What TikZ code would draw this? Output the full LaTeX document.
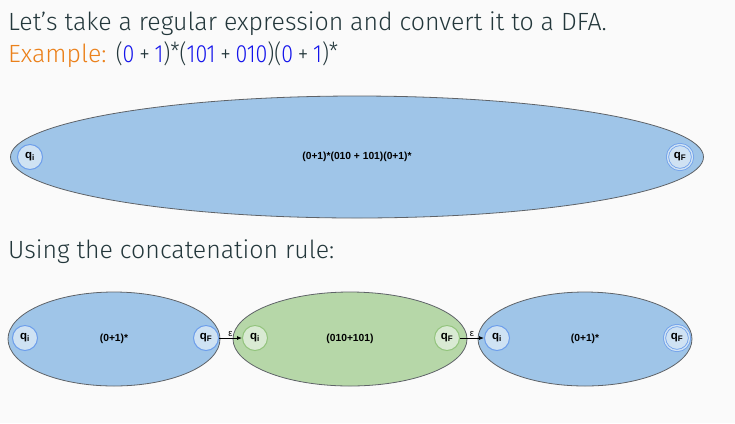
\documentclass[tikz,border=0pt]{standalone}
\usepackage{fontspec}
\setmainfont{Fira Sans Light}
\newfontfamily\lblfont{Liberation Sans}
\usepackage{xcolor}
\usepackage{tikz}
\usetikzlibrary{shapes.geometric, arrows.meta, positioning}
\definecolor{mtext}{HTML}{23373B}
\definecolor{morange}{HTML}{EB811B}
\definecolor{mbg}{HTML}{FAFAFA}
\definecolor{mblue}{RGB}{20,20,235}
\definecolor{ellblue}{HTML}{9FC5E8}
\definecolor{ellgreen}{HTML}{B6D7A8}
\definecolor{edgegray}{HTML}{5F6368}
\definecolor{stbluefill}{HTML}{CFE2F3}
\definecolor{stblueline}{HTML}{6D9EEB}
\definecolor{stgreenfill}{HTML}{D9EAD3}
\definecolor{stgreenline}{HTML}{93C47D}
\newcommand{\bl}[1]{\textcolor{mblue}{#1}}
\newcommand{\pl}{\:+\:}
\newcommand{\st}{\raisebox{0.06em}{*}}
\tikzset{
  blueblob/.style={ellipse, draw=edgegray, fill=ellblue, inner sep=0pt,
    line width=0.8bp, font=\lblfont\bfseries\fontsize{10.3}{12}\selectfont},
  greenblob/.style={ellipse, draw=edgegray, fill=ellgreen, inner sep=0pt,
    line width=0.8bp, font=\lblfont\bfseries\fontsize{10.3}{12}\selectfont},
  bstate/.style={circle, draw=stblueline, fill=stbluefill, minimum size=25bp,
    inner sep=0pt, line width=1bp, font=\lblfont\bfseries\fontsize{11.5}{13}\selectfont},
  gstate/.style={bstate, draw=stgreenline, fill=stgreenfill},
  bfinal/.style={bstate, double=stbluefill, double distance=1.4bp, line width=0.8bp},
  epsarrow/.style={-{Latex[length=5bp,width=4bp]}, line width=0.8bp, color=black},
  heading/.style={anchor=base west, text=mtext, font=\fontsize{25}{30}\selectfont}
}

\begin{document}
\begin{tikzpicture}[x=1bp, y=-1bp]
  \useasboundingbox[fill=mbg] (0,0) rectangle (735,423);

  % Slide text
  \node[heading, inner sep=0pt] (intro) at (8,30) {Let’s take a regular expression and convert it to a DFA.};
  \node[heading, inner sep=0pt] (example) at (8,62)
    {\textcolor{morange}{Example:} \scalebox{0.86}[1]{(\bl{0}\pl\bl{1})\st(\bl{101}\pl\bl{010})(\bl{0}\pl\bl{1})\st}};
  \node[heading, inner sep=0pt] (concat) at (8,258) {Using the concatenation rule:};

  % Whole expression as one machine
  \node[blueblob, minimum width=693bp, minimum height=122bp] (whole) at (357,157) {(0+1)*(010 + 101)(0+1)*};
  \node[bstate] (w_i) at (30,157) {q\textsubscript{i}};
  \node[bfinal] (w_f) at (680,157) {q\textsubscript{F}};

  % Three machines after concatenation
  \node[blueblob, minimum width=212bp, minimum height=94bp] (left) at (114,339) {(0+1)*};
  \node[greenblob, minimum width=234bp, minimum height=94bp] (mid) at (350,339) {(010+101)};
  \node[blueblob, minimum width=214bp, minimum height=94bp] (right) at (585,339) {(0+1)*};

  \node[bstate] (l_i) at (25,338) {q\textsubscript{i}};
  \node[bstate] (l_f) at (206,338) {q\textsubscript{F}};
  \node[gstate] (m_i) at (255,338) {q\textsubscript{i}};
  \node[gstate] (m_f) at (447,338) {q\textsubscript{F}};
  \node[bstate] (r_i) at (497,338) {q\textsubscript{i}};
  \node[bfinal] (r_f) at (677,338) {q\textsubscript{F}};

  % Epsilon links
  \draw[epsarrow] (l_f) -- (m_i) node[midway, above, inner sep=1.5bp, font=\lblfont\fontsize{9.5}{10}\selectfont] {ε};
  \draw[epsarrow] (m_f) -- (r_i) node[midway, above, inner sep=1.5bp, font=\lblfont\fontsize{9.5}{10}\selectfont] {ε};
\end{tikzpicture}
\end{document}
